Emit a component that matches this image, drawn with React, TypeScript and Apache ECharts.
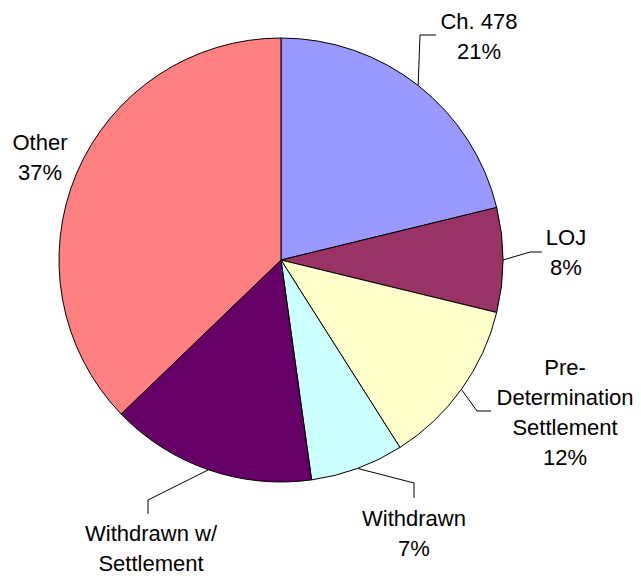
import React, { useEffect, useRef } from "react";
import * as echarts from "echarts";

const categories = [
  "Ch. 478",
  "LOJ",
  "Pre-\nDetermination\nSettlement",
  "Withdrawn",
  "Withdrawn w/\nSettlement",
  "Other",
];
const values = [21.2, 7.6, 12.2, 6.8, 15.0, 37.2];
const colors = ["#9999FF", "#993366", "#FFFFCC", "#CCFFFF", "#660066", "#FF8080"];
// the reference crops the percentage of this slice at the bottom edge
const showPercent = [true, true, true, true, false, true];

// label layout (text-block centre, leader elbow, leader end) — layout only
const labelAnchors: [number, number][] = [
  [479, 36],
  [566, 252],
  [565, 412],
  [414, 533],
  [151, 548],
  [40, 157],
];
const leaderElbows: ([number, number] | null)[] = [
  [420, 35],
  [530, 252],
  [477, 411],
  [414, 483],
  [148, 500],
  null,
];
const leaderEnds: ([number, number] | null)[] = [
  [436, 35],
  [542, 252],
  [491, 411],
  [414, 498],
  [148, 514],
  null,
];

export default function App() {
  const ref = useRef<HTMLDivElement>(null);
  useEffect(() => {
    document.body.style.margin = "0";
    if (!ref.current) return;
    const chart = echarts.init(ref.current, null, { renderer: "svg" });
    chart.setOption({
      animation: false,
      backgroundColor: "#ffffff",
      series: [
        {
          type: "pie",
          center: [281, 260],
          radius: 222,
          startAngle: 90,
          clockwise: true,
          percentPrecision: 0,
          avoidLabelOverlap: false,
          emphasis: { disabled: true },
          itemStyle: { borderColor: "#000000", borderWidth: 1 },
          label: {
            show: true,
            position: "outside",
            formatter: (p: any) =>
              showPercent[p.dataIndex] ? `${p.name}\n${p.percent}%` : p.name,
            fontFamily: "Liberation Sans, Arial, sans-serif",
            fontSize: 22,
            lineHeight: 30,
            color: "#000000",
            align: "center",
          },
          labelLine: {
            show: true,
            length: 15,
            length2: 10,
            lineStyle: { color: "#000000", width: 1 },
          },
          labelLayout: (params: any) => {
            const i = params.dataIndex;
            const a = labelAnchors[i];
            const res: any = {
              x: a[0],
              y: a[1],
              align: "center",
              verticalAlign: "middle",
            };
            const el = leaderElbows[i];
            const en = leaderEnds[i];
            if (el && en && params.labelLinePoints) {
              res.labelLinePoints = [params.labelLinePoints[0], el, en];
            }
            return res;
          },
          data: categories.map((c, i) => ({
            name: c,
            value: values[i],
            itemStyle: { color: colors[i] },
            labelLine: { show: leaderElbows[i] !== null },
          })),
        },
      ],
    });
    return () => chart.dispose();
  }, []);
  return <div ref={ref} style={{ width: 641, height: 578 }} />;
}
